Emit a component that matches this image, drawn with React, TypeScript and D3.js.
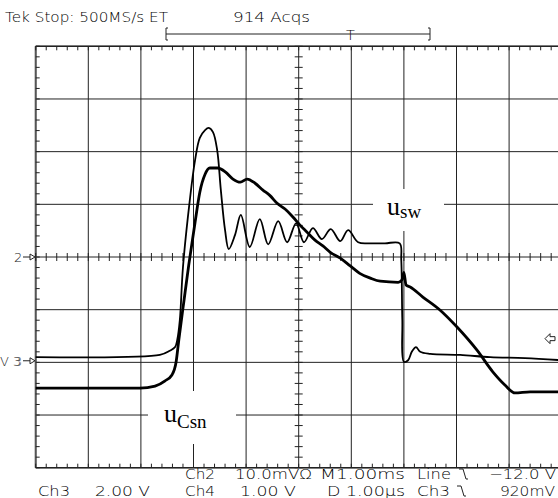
import * as d3 from "d3";

// time axis in divisions (1.00ms/div), voltages in divisions from screen centre
const uswT = [0, 2.36, 2.55, 2.65, 2.69, 2.74, 2.8, 2.93, 3.03, 3.12, 3.22, 3.29, 3.37, 3.45, 3.52, 3.6, 3.67, 3.79, 3.9, 4.07, 4.26, 4.42, 4.61, 4.78, 4.95, 5.1, 5.27, 5.44, 5.61, 5.79, 5.94, 6.13, 6.36, 6.64, 6.92, 6.95, 6.97, 7.0, 7.08, 7.15, 7.23, 7.31, 7.5, 8.07, 8.64, 9.3, 10];
const uswV = [-1.9, -1.86, -1.78, -1.71, -1.58, -1.2, -0.19, 1.08, 1.84, 2.26, 2.41, 2.45, 2.37, 2.03, 1.27, 0.51, 0.15, 0.42, 0.8, 0.19, 0.72, 0.24, 0.68, 0.28, 0.64, 0.28, 0.55, 0.34, 0.53, 0.3, 0.51, 0.28, 0.26, 0.26, 0.26, -0.06, -1.2, -1.99, -1.96, -1.8, -1.71, -1.8, -1.84, -1.86, -1.9, -1.92, -1.96];

const ucsnT = [0, 1.98, 2.27, 2.46, 2.59, 2.67, 2.72, 2.82, 2.91, 3.03, 3.12, 3.22, 3.31, 3.46, 3.61, 3.75, 3.89, 4.02, 4.17, 4.32, 4.45, 4.59, 4.74, 4.89, 5.02, 5.16, 5.31, 5.46, 5.6, 5.79, 5.98, 6.16, 6.36, 6.55, 6.89, 6.96, 7.0, 7.04, 7.12, 7.36, 7.69, 8.01, 8.39, 8.69, 8.92, 9.11, 9.4, 10];
const ucsnV = [-2.49, -2.49, -2.45, -2.35, -2.24, -1.99, -1.58, -0.82, -0.15, 0.66, 1.23, 1.57, 1.69, 1.69, 1.61, 1.48, 1.42, 1.48, 1.4, 1.27, 1.17, 1.02, 0.91, 0.76, 0.61, 0.47, 0.32, 0.21, 0.09, -0.02, -0.17, -0.31, -0.4, -0.46, -0.48, -0.44, -0.29, -0.53, -0.57, -0.76, -1.01, -1.33, -1.77, -2.18, -2.43, -2.58, -2.56, -2.56];

// [text, x, width]
const header = [
  ["Tek Stop: 500MS/s ET", 5, 163],
  ["914 Acqs", 233, 77],
] as const;
const footerRow1 = [
  ["Ch2", 185, 30],
  ["10.0mVΩ", 235, 77],
  ["M1.00ms", 320, 85],
  ["Line", 417, 34],
  ["−12.0 V", 489, 67],
] as const;
const footerRow2 = [
  ["Ch3", 38, 32],
  ["2.00 V", 95, 55],
  ["Ch4", 185, 30],
  ["1.00 V", 240, 56],
  ["D 1.00µs", 327, 78],
  ["Ch3", 417, 33],
  ["920mV", 500, 55],
] as const;

const W = 558;
const H = 498;
const FONT = "'DejaVu Sans', sans-serif";

export default function App() {
  const x = d3.scaleLinear().domain([0, 10]).range([35.7, 561.7]);
  const y = d3.scaleLinear().domain([-4, 4]).range([467.7, 46.3]);

  const uswLine = d3
    .line<number>()
    .x((_, i) => x(uswT[i]))
    .y((v) => y(v))
    .curve(d3.curveCatmullRom.alpha(0.5));
  const ucsnLine = d3
    .line<number>()
    .x((_, i) => x(ucsnT[i]))
    .y((v) => y(v))
    .curve(d3.curveMonotoneX);

  const majorX = d3.range(0, 11);
  const majorY = d3.range(-4, 5);
  const minorX = d3.range(0, 50.01, 1).map((d) => d / 5);
  const minorY = d3.range(-20, 20.01, 1).map((d) => d / 5);

  const fallSym = (px: number, py: number) =>
    `M${px},${py - 10} H${px + 4} L${px + 7},${py} H${px + 9}`;

  return (
    <svg width={W} height={H} style={{ position: "absolute", left: 0, top: 0, background: "#fff" }}>
      <rect width={W} height={H} fill="#fff" />
      {/* graticule */}
      <g stroke="#222" strokeWidth={1} fill="none">
        {majorX.map((d) => (
          <line key={"vx" + d} x1={x(d)} x2={x(d)} y1={y(4)} y2={y(-4)} />
        ))}
        {majorY.map((d) => (
          <line key={"hy" + d} x1={x(0)} x2={x(10)} y1={y(d)} y2={y(d)} />
        ))}
        <line x1={x(0)} x2={x(0)} y1={y(4)} y2={y(-4)} strokeWidth={2} stroke="#555" />
        <line x1={x(0)} x2={x(10)} y1={y(4)} y2={y(4)} strokeWidth={1.6} />
        <line x1={x(0)} x2={x(10)} y1={y(-4)} y2={y(-4)} strokeWidth={1.6} />
        {minorX.map((d) => (
          <g key={"mx" + d}>
            <line x1={x(d)} x2={x(d)} y1={y(4)} y2={y(4) + 4} />
            <line x1={x(d)} x2={x(d)} y1={y(-4)} y2={y(-4) - 4} />
            <line x1={x(d)} x2={x(d)} y1={y(0) - 4} y2={y(0) + 4} />
          </g>
        ))}
        {minorY.map((d) => (
          <g key={"my" + d}>
            <line x1={x(0)} x2={x(0) + 4} y1={y(d)} y2={y(d)} />
            <line x1={x(5) - 4} x2={x(5) + 4} y1={y(d)} y2={y(d)} />
          </g>
        ))}
      </g>

      {/* label boxes hide the graticule */}
      <rect x={373} y={189} width={71} height={42} fill="#fff" />
      <rect x={148} y={391} width={88} height={53} fill="#fff" />

      {/* traces */}
      <path d={ucsnLine(ucsnV) ?? ""} fill="none" stroke="#000" strokeWidth={2.8} strokeLinejoin="round" />
      <path d={uswLine(uswV) ?? ""} fill="none" stroke="#000" strokeWidth={1.8} strokeLinejoin="round" />

      {/* trace labels */}
      <text x={387} y={215} fontFamily="'Times New Roman', 'Liberation Serif', serif" fontSize={26} fill="#000">
        u<tspan fontSize={19} dy={3}>sw</tspan>
      </text>
      <text x={164} y={422} fontFamily="'Times New Roman', 'Liberation Serif', serif" fontSize={26} fill="#000">
        u<tspan fontSize={19} dy={6}>Csn</tspan>
      </text>

      {/* channel markers */}
      <g fontFamily={FONT} fontSize={13} fill="#222" fontWeight={300}>
        <text x={14} y={y(0) + 5}>2</text>
        <text x={0} y={y(-1.97) + 5}>V</text>
        <text x={13} y={y(-1.97) + 5}>3</text>
        <text x={14} y={y(-1.97) + 5} fill="#666">3</text>
      </g>
      <g stroke="#222" fill="#fff" strokeWidth={1}>
        <line x1={23} x2={30} y1={y(0)} y2={y(0)} />
        <path d={`M30,${y(0) - 3} L35,${y(0)} L30,${y(0) + 3} Z`} />
        <line x1={23} x2={30} y1={y(-1.97)} y2={y(-1.97)} />
        <path d={`M30,${y(-1.97) - 3} L35,${y(-1.97)} L30,${y(-1.97) + 3} Z`} />
        {/* trigger level arrow */}
        <path d={`M545,${y(-1.55)} L550,${y(-1.55) - 5} V${y(-1.55) - 2} H555 V${y(-1.55) + 2} H550 V${y(-1.55) + 5} Z`} />
      </g>

      {/* header */}
      <g fontFamily={FONT} fontSize={14.5} fill="#000" fontWeight={300}>
        {header.map(([t, px, w]) => (
          <text key={t} x={px} y={22} textLength={w} lengthAdjust="spacingAndGlyphs">{t}</text>
        ))}
        <text x={346} y={40}>T</text>
      </g>
      <g stroke="#222" strokeWidth={1} fill="none">
        <line x1={166} x2={430} y1={34} y2={34} />
        <path d="M168,28 H166 V40 H168" />
        <path d="M428,28 H430 V40 H428" />
      </g>

      {/* footer */}
      <g fontFamily={FONT} fontSize={14.5} fill="#000" fontWeight={300}>
        {footerRow1.map(([t, px, w]) => (
          <text key={"r1" + t} x={px} y={479} textLength={w} lengthAdjust="spacingAndGlyphs">{t}</text>
        ))}
        {footerRow2.map(([t, px, w]) => (
          <text key={"r2" + t + px} x={px} y={496} textLength={w} lengthAdjust="spacingAndGlyphs">{t}</text>
        ))}
      </g>
      <g stroke="#222" strokeWidth={1} fill="none">
        <path d={fallSym(459, 479)} />
        <path d={fallSym(457, 496)} />
      </g>
    </svg>
  );
}
